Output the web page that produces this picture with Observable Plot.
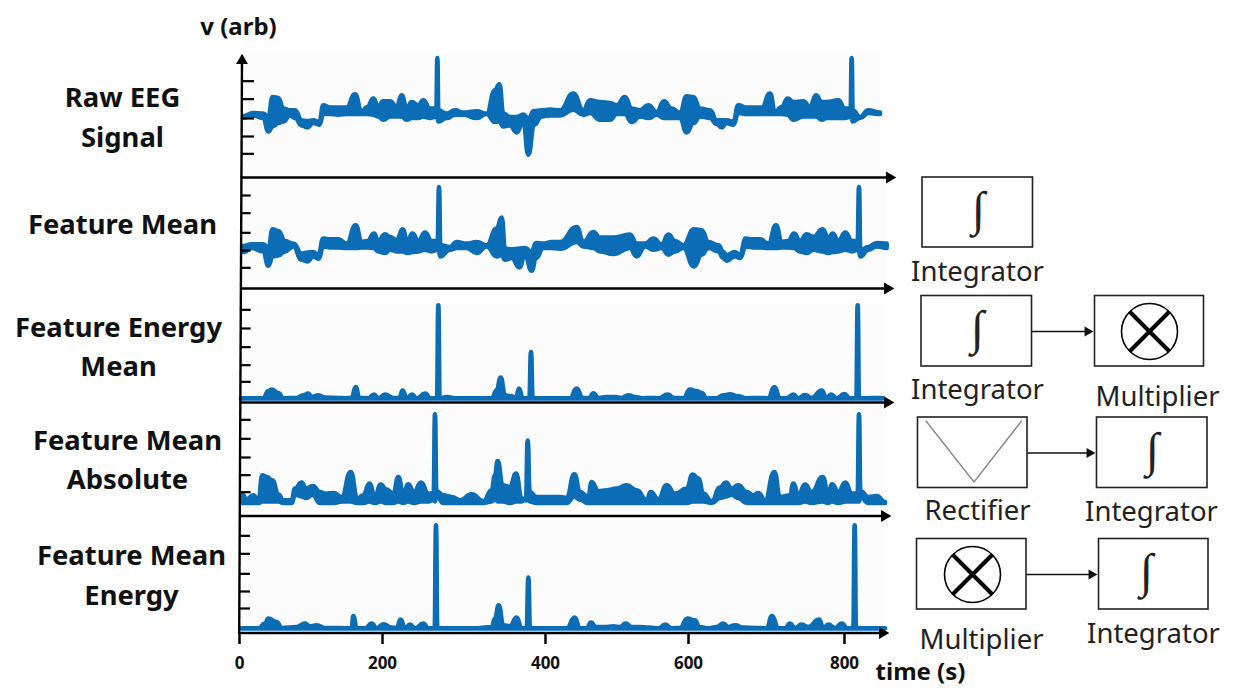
<!DOCTYPE html>
<html><head><meta charset="utf-8">
<script src="https://cdn.jsdelivr.net/npm/d3@7"></script>
<script src="https://cdn.jsdelivr.net/npm/@observablehq/plot@0.6"></script>
<style>
html,body{margin:0;padding:0;background:#fff}
#stage{position:relative;width:1241px;height:696px;overflow:hidden}
#stage svg{position:absolute;left:0;top:0}
</style></head><body><div id="stage"></div>
<script>
// x = sample index along the recording, v = arbitrary units.
const timeTicks = [0,200,400,600,800];

const rawSample = [40,70,100,115,128,145,160,180,195,215,232,250,268,280,300,325,350,375,395,412,430,445,460,480,500,515,530,545,565,580,600,619,622,625,650,675,700,740,770,795,808,820,840,860,880,895,912,935,960,990,1030,1060,1080,1110,1140,1160,1185,1205,1230,1255,1280,1302,1325,1350,1370,1390,1410,1440,1460,1475,1490,1510,1525,1550,1570,1595,1620,1635,1655,1673,1690,1720,1740,1758,1775,1790,1825,1845,1862,1865,1868,1890,1915,1950];
const rawHigh = [92,101,99,89,149,146,114,109,109,79,77,79,74,124,117,117,117,157,104,119,144,119,136,136,119,154,114,134,124,139,114,114,266,109,99,109,102,106,99,169,187,99,89,89,96,84,107,109,111,109,159,109,139,134,131,124,149,114,109,124,104,136,114,101,151,149,114,109,79,79,79,74,124,117,117,117,159,104,119,144,134,136,119,154,134,134,139,114,114,266,109,89,109,102];
const rawLow = [88,94,86,46,61,71,76,94,86,64,58,71,66,98,98,96,98,98,98,98,96,91,81,91,91,91,81,86,86,91,86,91,86,76,86,96,96,86,98,74,76,61,64,43,76,-24,66,91,94,94,111,96,101,81,81,98,98,74,91,86,96,86,86,86,43,71,91,86,68,58,71,66,101,98,98,98,98,98,98,96,81,91,91,91,81,86,86,86,91,86,76,86,101,98];
const rawTicks = [198,144,86,32,-20];

const meanSample = [40,65,100,115,128,145,165,190,215,232,250,265,280,300,325,350,377,395,412,432,445,465,480,500,518,532,547,565,585,605,623,627,631,660,680,710,740,770,800,815,825,845,868,885,905,918,940,965,990,1040,1060,1090,1110,1150,1200,1220,1245,1270,1295,1315,1335,1360,1392,1415,1435,1465,1480,1490,1515,1530,1547,1570,1590,1615,1638,1655,1675,1692,1710,1730,1750,1778,1795,1808,1825,1846,1866,1883,1887,1891,1915,1940,1970];
const meanHigh = [22,27,27,14,72,67,37,29,-1,2,4,-6,44,42,42,29,84,34,37,59,37,57,49,39,72,34,59,37,62,37,37,199,24,19,34,29,34,24,74,107,14,12,14,16,4,31,29,34,34,79,34,64,47,47,56,29,29,44,27,56,37,24,72,69,34,24,4,-6,4,-6,44,42,42,29,84,34,37,59,37,57,49,72,44,59,37,62,37,37,199,9,19,31,29];
const meanLow = [4,16,6,-37,-9,-6,6,21,-19,-24,-9,-16,21,18,18,16,16,18,18,16,6,1,11,6,6,1,4,6,11,6,11,6,-9,11,16,16,1,21,-9,-4,-19,-14,-42,-4,-52,-14,16,16,14,34,21,16,6,-2,16,-9,21,11,16,-4,6,16,-39,-4,16,6,-14,-22,-9,-14,21,18,18,16,16,18,18,16,6,1,11,6,1,4,6,11,6,11,6,-9,11,21,16];
const meanTicks = [175,122,63,10,-42];

const energyMeanSample = [33,60,100,115,125,145,160,200,220,235,245,265,285,325,345,365,377,388,415,432,445,465,490,508,518,530,546,560,586,600,621,625,629,650,680,735,785,800,812,825,845,858,867,878,898,903,908,930,990,1020,1040,1058,1078,1090,1105,1130,1155,1175,1195,1215,1240,1265,1285,1313,1333,1360,1380,1400,1415,1430,1460,1480,1500,1520,1550,1585,1615,1633,1650,1670,1690,1705,1725,1745,1775,1790,1803,1820,1843,1860,1879,1883,1887,1910,1930,1960];
const energyMeanHigh = [0,0,0,22,26,16,0,1,9,14,4,9,2,1,0,1,34,1,0,11,0,11,1,1,23,0,11,0,14,0,0,279,0,4,0,0,0,24,62,9,6,1,29,0,0,139,0,0,0,0,29,1,1,15,1,4,4,1,9,4,0,1,0,11,1,0,26,22,16,0,0,9,12,7,0,1,0,34,0,0,11,0,10,1,23,0,11,0,13,0,0,279,0,0,1,0];
const energyMeanTicks = [267,211,155,101,51];

const absSample = [35,50,70,85,97,110,127,145,160,185,195,215,228,248,270,285,312,335,362,382,400,418,435,452,468,490,505,520,534,552,573,595,611,615,619,640,665,690,725,760,785,795,803,818,840,858,875,888,893,899,920,990,1010,1033,1050,1075,1085,1105,1130,1160,1190,1220,1250,1262,1285,1310,1335,1370,1388,1405,1420,1445,1470,1488,1505,1525,1550,1570,1585,1605,1633,1650,1680,1690,1705,1725,1745,1778,1795,1806,1825,1846,1865,1883,1887,1891,1915,1940,1965];
const absHigh = [29,12,24,4,84,79,69,26,9,9,44,62,44,52,34,29,31,19,94,14,24,59,19,56,42,29,79,24,57,34,62,29,29,267,37,24,19,9,27,6,39,84,127,54,49,89,14,9,188,34,19,19,16,87,34,19,64,37,39,44,54,39,9,34,12,54,29,44,86,74,29,6,47,62,44,54,34,24,31,9,94,19,24,59,24,56,34,79,24,57,34,62,29,29,267,37,19,22,4];
const absLow = [1,1,1,1,6,6,6,6,1,1,26,21,16,26,1,1,1,6,6,1,1,6,1,6,1,1,6,1,6,1,6,6,11,6,26,1,1,1,1,1,6,16,6,6,1,6,6,16,16,6,1,1,1,21,11,1,1,1,1,1,1,1,1,1,1,1,1,1,6,6,6,1,16,21,26,16,1,1,1,1,1,1,1,1,1,6,1,6,1,6,1,6,6,6,6,21,1,1,1];
const absTicks = [252,195,139,86,35];

const meanEnergySample = [33,85,105,115,140,155,200,225,240,260,285,325,345,365,370,380,405,425,440,460,485,500,512,525,540,555,580,595,614,618,622,650,730,785,795,806,820,840,860,875,890,895,900,945,995,1010,1034,1050,1070,1083,1098,1125,1150,1170,1187,1205,1225,1258,1285,1306,1325,1350,1372,1395,1408,1435,1460,1480,1495,1515,1540,1580,1610,1626,1645,1665,1680,1695,1715,1735,1767,1780,1795,1815,1835,1852,1870,1874,1878,1905,1940,1965];
const meanEnergyHigh = [0,0,14,29,19,1,4,14,6,9,1,1,0,0,37,0,0,14,0,12,2,1,26,0,11,0,14,0,0,309,0,0,0,4,29,69,9,7,32,0,0,152,0,0,0,0,32,0,0,17,4,4,6,4,14,4,4,2,0,11,0,1,29,24,4,0,4,14,4,9,2,1,0,37,0,0,14,1,11,4,26,1,11,1,14,0,0,309,0,0,0,0];
const meanEnergyTicks = [279,225,165,112,61];

const blue = "#0b6db5";
const stage = document.getElementById("stage");
const W = 1241, H = 696;
const font = "'Noto Sans', Lato, sans-serif";

function panel({sample, high, low, ticks, zero, tickFrom, tickTo, bgFrom, bgTo, vTop, vBottom}) {
  const rows = sample.map((s, i) => ({s, hi: high[i], lo: low ? low[i] : 0}));
  const p = Plot.plot({
    width: W, height: H, margin: 0, style: {background: "transparent"},
    x: {domain: [0, 3000], range: [230, 1230], axis: null},
    y: {domain: [0, 450], range: [zero, zero - 150], axis: null},
    marks: [
      Plot.rect([0], {x1: bgFrom, x2: bgTo, y1: vBottom, y2: vTop, fill: "#fcfcfd"}),
      Plot.areaY(rows, {x: "s", y1: "lo", y2: "hi", curve: "bump-x", fill: blue, stroke: blue, strokeWidth: 4.6, strokeLinejoin: "round", strokeLinecap: "round"}),
      Plot.ruleY(ticks, {x1: tickFrom, x2: tickTo, stroke: "#000", strokeWidth: 2.2})
    ]
  });
  stage.appendChild(p);
}

panel({sample: rawSample, high: rawHigh, low: rawLow, ticks: rawTicks, zero: 146.67, tickFrom: 36, tickTo: 72, bgFrom: 39, bgTo: 1950, vTop: 280, vBottom: -88});
panel({sample: meanSample, high: meanHigh, low: meanLow, ticks: meanTicks, zero: 253.33, tickFrom: 33, tickTo: 62, bgFrom: 39, bgTo: 1972, vTop: 220, vBottom: -100});
panel({sample: energyMeanSample, high: energyMeanHigh, ticks: energyMeanTicks, zero: 398.33, tickFrom: 33, tickTo: 62, bgFrom: 33, bgTo: 1965, vTop: 285, vBottom: -3});
panel({sample: absSample, high: absHigh, low: absLow, ticks: absTicks, zero: 503.33, tickFrom: 33, tickTo: 62, bgFrom: 33, bgTo: 1965, vTop: 300, vBottom: -30});
panel({sample: meanEnergySample, high: meanEnergyHigh, ticks: meanEnergyTicks, zero: 628.33, tickFrom: 30, tickTo: 60, bgFrom: 30, bgTo: 1965, vTop: 330, vBottom: -3});

// Time axis: its ticks are unevenly spaced in the picture, so each tick sits at its drawn page position.
const timeToPage = d3.scaleLinear(timeTicks, [239, 382, 545, 688, 844]);
stage.appendChild(Plot.plot({
  width: W, height: H, marginTop: 0, marginLeft: 0, marginRight: 0, marginBottom: 63,
  style: {background: "transparent"},
  x: {domain: [0, W], range: [0, W], label: null},
  y: {axis: null},
  marks: [
    Plot.axisX(timeTicks.map(timeToPage), {tickFormat: px => String(Math.round(timeToPage.invert(px))), tickSize: 11, tickPadding: 12, strokeWidth: 2.5, stroke: "#000", fill: "#111", fontSize: 17, fontWeight: 700, fontFamily: font, label: null})
  ]
}));

// Schematic layer, laid out on the page's own grid.
const boxes = [
  {x1: 922, x2: 1032.5, y1: 177, y2: 247},
  {x1: 921, x2: 1031.5, y1: 295.5, y2: 366},
  {x1: 1094.5, x2: 1203.5, y1: 295.5, y2: 366},
  {x1: 917.5, x2: 1027, y1: 417, y2: 487.5},
  {x1: 1096.5, x2: 1207, y1: 417, y2: 487.5},
  {x1: 916.5, x2: 1026, y1: 538.5, y2: 609},
  {x1: 1098.5, x2: 1208, y1: 538.5, y2: 609}
];
const integrals = [{x: 978, y: 209}, {x: 977, y: 328}, {x: 1152, y: 450}, {x: 1146, y: 571}];
const circles = [{x: 1149, y: 331}, {x: 972, y: 574}];
const crossArm = 20;
const crossLines = circles.flatMap(c => [
  {x1: c.x - crossArm, y1: c.y - crossArm, x2: c.x + crossArm, y2: c.y + crossArm},
  {x1: c.x - crossArm, y1: c.y + crossArm, x2: c.x + crossArm, y2: c.y - crossArm}
]);
const connectors = [
  {x1: 1031.5, x2: 1087, y: 331},
  {x1: 1027, x2: 1089, y: 452.5},
  {x1: 1026, x2: 1091, y: 574}
];
const axisArrows = [
  {x1: 240, x2: 889, y: 177},
  {x1: 240, x2: 887, y: 288},
  {x1: 240, x2: 887, y: 402},
  {x1: 240, x2: 884, y: 515.5},
  {x1: 238, x2: 882, y: 632.5}
];
const rectifierV = [{x: 925.5, y: 420.5}, {x: 973.5, y: 481.5}, {x: 1021, y: 420.5}];
const boldLabels = [
  {x: 122, y: 98, t: "Raw EEG"}, {x: 122, y: 138, t: "Signal"},
  {x: 122, y: 225, t: "Feature Mean"},
  {x: 118, y: 328, t: "Feature Energy"}, {x: 118, y: 367, t: "Mean"},
  {x: 127, y: 441, t: "Feature Mean"}, {x: 127, y: 480, t: "Absolute"},
  {x: 131, y: 556, t: "Feature Mean"}, {x: 131, y: 596, t: "Energy"}
];
const axisTitles = [{x: 238, y: 27, t: "v (arb)"}, {x: 920, y: 672, t: "time (s)"}];
const blockLabels = [
  {x: 977, y: 272, t: "Integrator"}, {x: 977, y: 390, t: "Integrator"}, {x: 1157, y: 397, t: "Multiplier"},
  {x: 977, y: 511, t: "Rectifier"}, {x: 1151, y: 512, t: "Integrator"},
  {x: 981, y: 640, t: "Multiplier"}, {x: 1153, y: 634, t: "Integrator"}
];

stage.appendChild(Plot.plot({
  width: W, height: H, margin: 0, style: {background: "transparent"},
  x: {domain: [0, W], range: [0, W], axis: null},
  y: {domain: [0, H], range: [0, H], axis: null},
  marks: [
    Plot.link(axisArrows, {x1: "x1", x2: "x2", y1: "y", y2: "y", stroke: "#000", strokeWidth: 2.4}),
    Plot.dot(axisArrows, {x: "x2", y: "y", symbol: "triangle", r: 4.4, rotate: 90, fill: "#000"}),
    Plot.link([{x1: 238.7, y1: 633, x2: 241.5, y2: 60}], {x1: "x1", y1: "y1", x2: "x2", y2: "y2", stroke: "#000", strokeWidth: 2.4}),
    Plot.dot([{x: 241.5, y: 60}], {x: "x", y: "y", symbol: "triangle", r: 4.4, fill: "#000"}),
    Plot.rect(boxes, {x1: "x1", x2: "x2", y1: "y1", y2: "y2", fill: "#fff", stroke: "#222", strokeWidth: 1.6}),
    Plot.link(connectors, {x1: "x1", x2: "x2", y1: "y", y2: "y", stroke: "#111", strokeWidth: 1.6}),
    Plot.dot(connectors, {x: "x2", y: "y", symbol: "triangle", r: 3.8, rotate: 90, fill: "#111"}),
    Plot.line(rectifierV, {x: "x", y: "y", stroke: "#8a8a8a", strokeWidth: 1.4}),
    Plot.dot(circles, {x: "x", y: "y", r: 28, stroke: "#000", strokeWidth: 1.6, fill: "none"}),
    Plot.link(crossLines, {x1: "x1", x2: "x2", y1: "y1", y2: "y2", stroke: "#000", strokeWidth: 4}),
    Plot.text(integrals, {x: "x", y: "y", text: () => "∫", fontSize: 48, fontFamily: "'Liberation Serif', serif", fill: "#222"}),
    Plot.text(boldLabels, {x: "x", y: "y", text: "t", fontSize: 27.4, fontWeight: 700, fontFamily: font, fill: "#111"}),
    Plot.text(axisTitles, {x: "x", y: "y", text: "t", fontSize: 24, fontWeight: 700, fontFamily: font, fill: "#111"}),
    Plot.text(blockLabels, {x: "x", y: "y", text: "t", fontSize: 27.5, fontFamily: font, fill: "#222"})
  ]
}));
</script></body></html>
